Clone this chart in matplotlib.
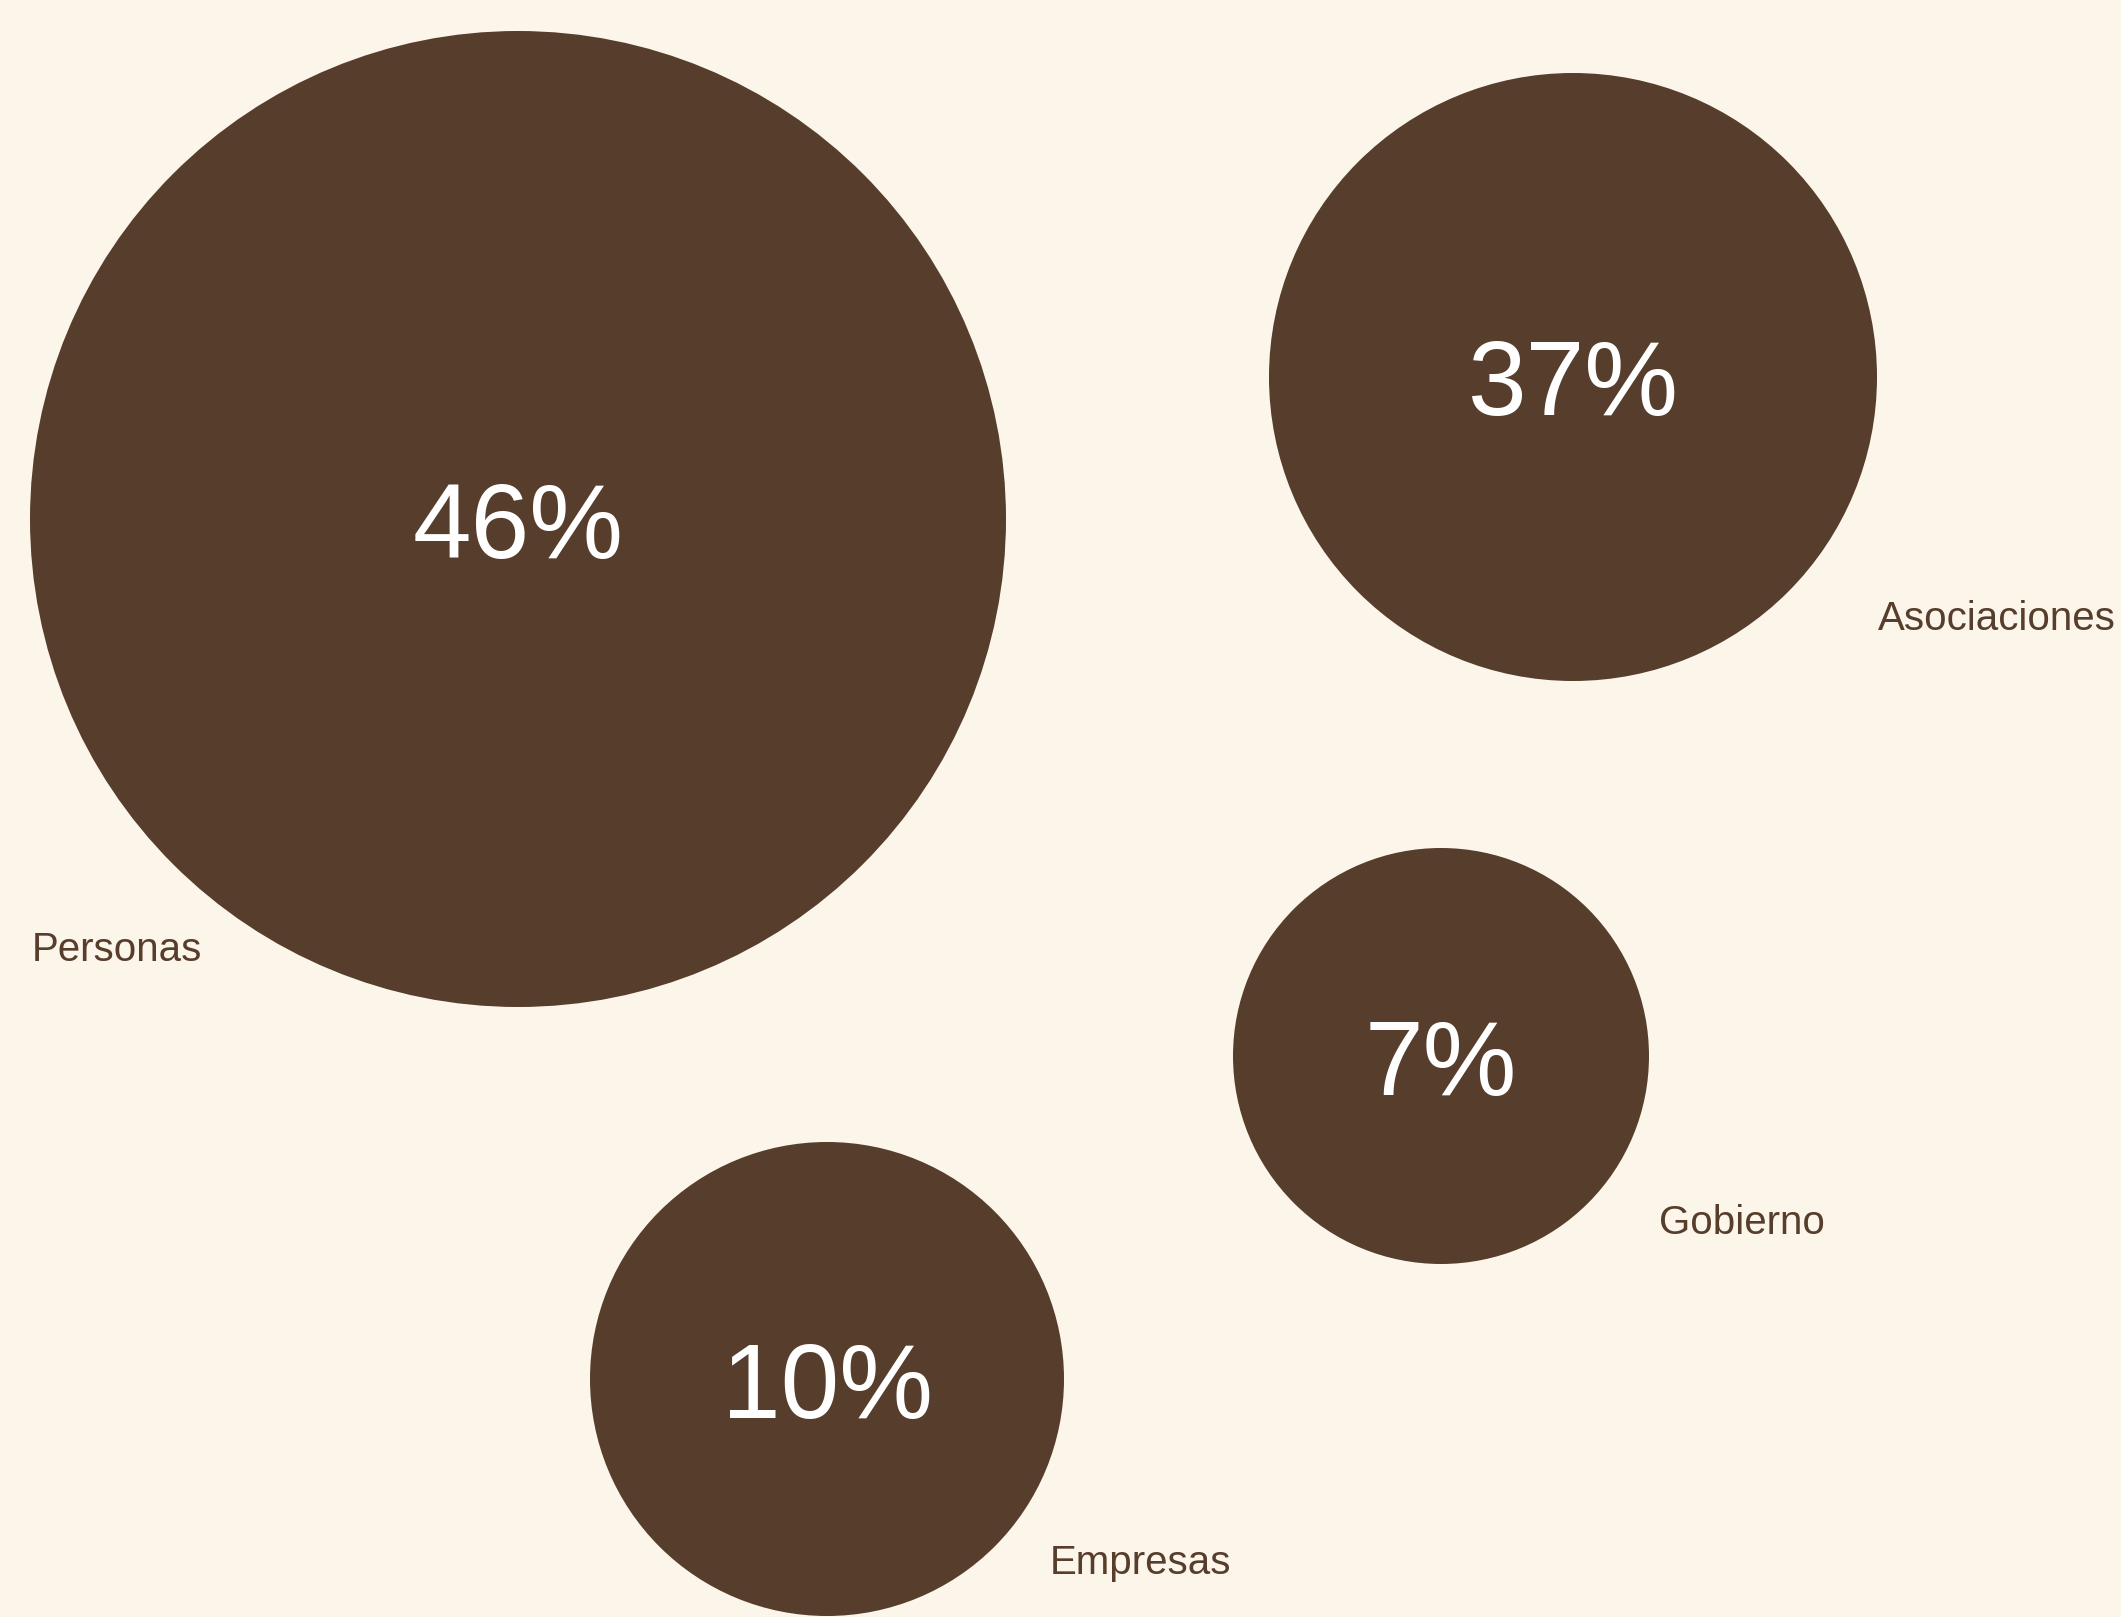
import matplotlib
matplotlib.use("Agg")
import matplotlib.pyplot as plt
from matplotlib.patches import Circle

# Data
categories = ["Personas", "Asociaciones", "Gobierno", "Empresas"]
shares = [46, 37, 7, 10]

# Layout in pixels (circle centre x, y and radius, label anchor x, baseline y)
centers_x = [518, 1573, 1441, 827]
centers_y = [519, 377, 1056, 1379]
radii = [488, 304, 208, 237]
label_x = [32, 1878, 1659, 1050]
label_y = [961, 630, 1234, 1574]

bg = "#FCF5EA"
brown = "#573D2B"

W, H = 2121, 1617
fig = plt.figure(figsize=(W / 100, H / 100), dpi=100, facecolor=bg)
ax = fig.add_axes([0, 0, 1, 1])
ax.set_facecolor(bg)
ax.set_xlim(0, W)
ax.set_ylim(H, 0)
ax.set_aspect("equal")
ax.axis("off")

for i, cat in enumerate(categories):
    ax.add_patch(Circle((centers_x[i], centers_y[i]), radii[i], color=brown, lw=0))
    ax.text(centers_x[i], centers_y[i], f"{shares[i]}%", color="white",
            fontsize=76, family="Liberation Sans", ha="center", va="center_baseline")
    ax.text(label_x[i], label_y[i], cat, color=brown, fontsize=29,
            family="Liberation Sans", ha="left", va="baseline")

fig.savefig("out.png", dpi=100, facecolor=bg)
